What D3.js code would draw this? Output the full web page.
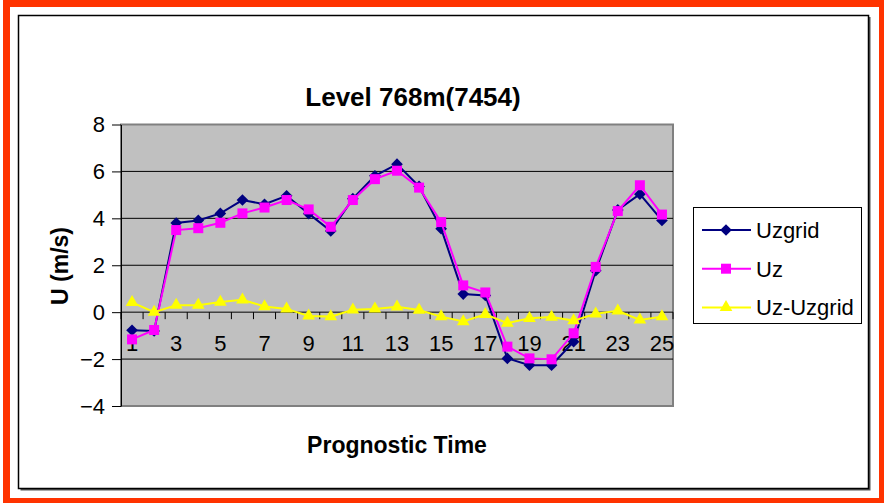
<!DOCTYPE html>
<html>
<head>
<meta charset="utf-8">
<script src="https://cdn.jsdelivr.net/npm/d3@7"></script>
<style>
  body { margin: 0; background: #fff; }
  svg { display: block; font-family: "Liberation Sans", Arial, sans-serif; }
</style>
</head>
<body>
<svg id="chart" width="884" height="503"></svg>
<script>
// prognostic time steps 1..25
var times = d3.range(1, 26);
var uzgrid = [-0.77, -0.8, 3.8, 3.91, 4.21, 4.78, 4.6, 4.96, 4.2, 3.46, 4.84, 5.81, 6.31,
              5.36, 3.56, 0.77, 0.71, -1.97, -2.26, -2.26, -1.26, 1.77, 4.36, 5.03, 3.91];
var uz = [-1.16, -0.76, 3.5, 3.58, 3.81, 4.21, 4.46, 4.78, 4.38, 3.64, 4.78, 5.67, 6.03,
          5.31, 3.84, 1.14, 0.84, -1.47, -1.97, -2.01, -0.9, 1.93, 4.31, 5.41, 4.16];
var diff = [0.42, 0.0, 0.3, 0.3, 0.43, 0.53, 0.24, 0.14, -0.16, -0.19, 0.1, 0.14, 0.23,
            0.09, -0.19, -0.4, -0.09, -0.47, -0.26, -0.21, -0.36, -0.07, 0.06, -0.33, -0.19];
var yTicks = [-4, -2, 0, 2, 4, 6, 8];
var xLabels = times.filter(function(d) { return d % 2 == 1; });

var series = [
  {name: "Uzgrid", values: uzgrid, color: "#000080", symbol: d3.symbolSquare, size: 68, rot: 45},
  {name: "Uz", values: uz, color: "#ff00ff", symbol: d3.symbolSquare, size: 100, rot: 0},
  {name: "Uz-Uzgrid", values: diff, color: "#ffff00", symbol: d3.symbolTriangle, size: 70, rot: 0}
];

function draw_chart() {
  var svg = d3.select("#chart");

  // red frame and chart box
  svg.append("rect").attr("x", 6.5).attr("y", 3.5).attr("width", 876).attr("height", 498)
    .attr("fill", "#fff").attr("stroke", "#ff3300").attr("stroke-width", 7);
  svg.append("rect").attr("x", 20.5).attr("y", 17).attr("width", 850).attr("height", 473.5)
    .attr("fill", "#555");
  svg.append("rect").attr("x", 18.5).attr("y", 15.5).attr("width", 850).attr("height", 473)
    .attr("fill", "#fff").attr("stroke", "#000").attr("stroke-width", 1.5);

  var pLeft = 121, pRight = 673, pTop = 124.5, pBottom = 406;
  var x = d3.scaleBand().domain(times).range([pLeft, pRight]);
  var y = d3.scaleLinear().domain([-4, 8]).range([pBottom, pTop]);
  var cx = function(i) { return x(times[i]) + x.bandwidth() / 2; };

  // plot area
  svg.append("rect").attr("x", pLeft).attr("y", pTop).attr("width", pRight - pLeft).attr("height", pBottom - pTop)
    .attr("fill", "#c0c0c0").attr("stroke", "#808080").attr("stroke-width", 2);

  svg.append("g").selectAll("line")
    .data(yTicks.filter(function(d) { return d != 8 && d != -4; }))
    .enter().append("line")
    .attr("x1", pLeft).attr("x2", pRight)
    .attr("y1", function(d) { return y(d); }).attr("y2", function(d) { return y(d); })
    .attr("stroke", "#000").attr("stroke-width", 1);

  // y axis
  var yAxis = svg.append("g").attr("transform", "translate(" + pLeft + ",0)")
    .call(d3.axisLeft(y).tickValues(yTicks).tickSize(9).tickPadding(7).tickSizeOuter(0));
  yAxis.select(".domain").attr("stroke", "#000");
  yAxis.selectAll("line").attr("stroke", "#000");
  yAxis.selectAll("text").attr("font-size", 22).attr("fill", "#000")
    .attr("font-family", "Liberation Sans, Arial");

  // x axis crosses at 0
  var bounds = d3.range(0, times.length + 1).map(function(i) { return pLeft + i * x.step(); });
  svg.append("g").selectAll("line").data(bounds).enter().append("line")
    .attr("x1", function(d) { return d; }).attr("x2", function(d) { return d; })
    .attr("y1", y(0)).attr("y2", y(0) + 7)
    .attr("stroke", "#000").attr("stroke-width", 1);
  svg.append("g").selectAll("text").data(xLabels).enter().append("text")
    .attr("x", function(d) { return x(d) + x.bandwidth() / 2; })
    .attr("y", y(0) + 39)
    .attr("text-anchor", "middle").attr("font-size", 22)
    .text(function(d) { return d; });

  // series
  var line = d3.line()
    .x(function(d, i) { return cx(i); })
    .y(function(d) { return y(d); });

  series.forEach(function(s) {
    var g = svg.append("g");
    g.append("path").datum(s.values).attr("d", line)
      .attr("fill", "none").attr("stroke", s.color).attr("stroke-width", 2);
    g.selectAll("path.m").data(s.values).enter().append("path").attr("class", "m")
      .attr("d", d3.symbol().type(s.symbol).size(s.size))
      .attr("transform", function(d, i) {
        return "translate(" + cx(i) + "," + y(d) + ") rotate(" + s.rot + ")";
      })
      .attr("fill", s.color);
  });

  // titles
  svg.append("text").attr("x", 413).attr("y", 106).attr("text-anchor", "middle")
    .attr("font-size", 26).attr("font-weight", "bold").text("Level 768m(7454)");
  svg.append("text").attr("x", 397).attr("y", 453).attr("text-anchor", "middle")
    .attr("font-size", 23).attr("font-weight", "bold").text("Prognostic Time");
  svg.append("text").attr("transform", "translate(68,266) rotate(-90)").attr("text-anchor", "middle")
    .attr("font-size", 23).attr("font-weight", "bold").text("U (m/s)");

  // legend
  var legend = svg.append("g");
  legend.append("rect").attr("x", 693.5).attr("y", 207.5).attr("width", 168).attr("height", 116)
    .attr("fill", "#fff").attr("stroke", "#000").attr("stroke-width", 1);
  var item = legend.selectAll("g.item").data(series).enter().append("g").attr("class", "item")
    .attr("transform", function(d, i) { return "translate(0," + (230 + i * 38.7) + ")"; });
  item.append("line").attr("x1", 702).attr("x2", 751).attr("y1", 0).attr("y2", 0)
    .attr("stroke", function(d) { return d.color; }).attr("stroke-width", 2);
  item.append("path").attr("d", function(d) { return d3.symbol().type(d.symbol).size(d.size)(); })
    .attr("transform", function(d) { return "translate(726,0) rotate(" + d.rot + ")"; })
    .attr("fill", function(d) { return d.color; });
  item.append("text").attr("x", 756).attr("y", 8).attr("font-size", 22)
    .text(function(d) { return d.name; });
}
draw_chart();
</script>
</body>
</html>
